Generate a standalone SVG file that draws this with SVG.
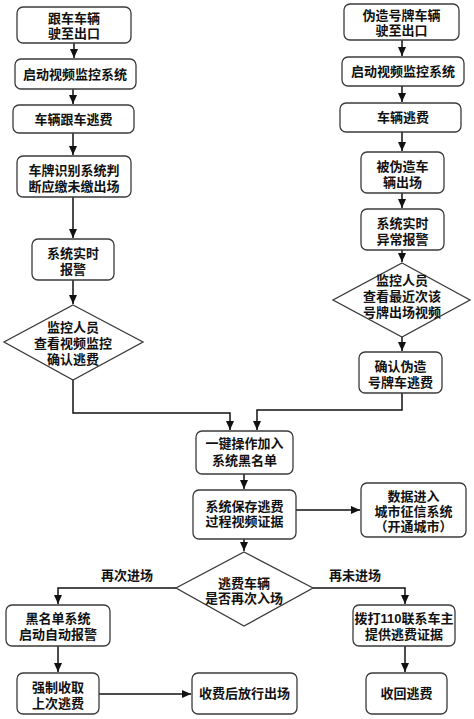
<svg xmlns="http://www.w3.org/2000/svg" width="474" height="719" viewBox="0 0 474 719">
<style>
.b{fill:#fff;stroke:#3a3a3a;stroke-width:1.3}
.t{font-family:"Liberation Sans","Noto Sans CJK SC","Noto Sans CJK JP",sans-serif;font-size:13px;font-weight:bold;fill:#111;text-anchor:middle}
.c{fill:none;stroke:#111;stroke-width:1.5}
</style>
<defs>
<marker id="a" markerUnits="userSpaceOnUse" markerWidth="10" markerHeight="10" refX="9" refY="4" orient="auto">
<path d="M0,0 L9,4 L0,8 Z" fill="#111"/>
</marker>
</defs>
<rect width="474" height="719" fill="#fff"/>
<g id="connectors">
<line class="c" x1="74" y1="43" x2="74" y2="58" marker-end="url(#a)"/>
<line class="c" x1="73" y1="89" x2="73" y2="104" marker-end="url(#a)"/>
<line class="c" x1="73" y1="133" x2="73" y2="155" marker-end="url(#a)"/>
<line class="c" x1="73" y1="197" x2="73" y2="238" marker-end="url(#a)"/>
<line class="c" x1="73" y1="280" x2="73" y2="304" marker-end="url(#a)"/>
<line class="c" x1="402" y1="40" x2="402" y2="56" marker-end="url(#a)"/>
<line class="c" x1="402" y1="86" x2="402" y2="102" marker-end="url(#a)"/>
<line class="c" x1="402" y1="132" x2="402" y2="151" marker-end="url(#a)"/>
<line class="c" x1="402" y1="193" x2="402" y2="208" marker-end="url(#a)"/>
<line class="c" x1="402" y1="250" x2="402" y2="262" marker-end="url(#a)"/>
<line class="c" x1="402" y1="337" x2="402" y2="351" marker-end="url(#a)"/>
<polyline class="c" points="73,380 73,413 230,413 230,430" marker-end="url(#a)"/>
<polyline class="c" points="402,393 402,410 257,410 257,430" marker-end="url(#a)"/>
<line class="c" x1="244" y1="474" x2="244" y2="489" marker-end="url(#a)"/>
<line class="c" x1="296" y1="510" x2="360" y2="510" marker-end="url(#a)"/>
<line class="c" x1="244" y1="539" x2="244" y2="551" marker-end="url(#a)"/>
<polyline class="c" points="176,588 58,588 58,604" marker-end="url(#a)"/>
<polyline class="c" points="313,588 405,588 405,604" marker-end="url(#a)"/>
<line class="c" x1="58" y1="646" x2="58" y2="672" marker-end="url(#a)"/>
<line class="c" x1="405" y1="646" x2="405" y2="672" marker-end="url(#a)"/>
<line class="c" x1="99" y1="694" x2="191" y2="694" marker-end="url(#a)"/>
<text class="t" x="127" y="580">再次进场</text>
<text class="t" x="355" y="580">再未进场</text>
</g>
<g id="L1"><rect class="b" x="17" y="7" width="114" height="36" rx="6"/><text class="t" x="74" y="23">跟车车辆<tspan x="74" dy="15">驶至出口</tspan></text></g>
<g id="L2"><rect class="b" x="15" y="59" width="121" height="30" rx="6"/><text class="t" x="75" y="79">启动视频监控系统</text></g>
<g id="L3"><rect class="b" x="13" y="105" width="121" height="28" rx="6"/><text class="t" x="73.5" y="124">车辆跟车逃费</text></g>
<g id="L4"><rect class="b" x="17" y="156" width="114" height="41" rx="6"/><text class="t" x="74" y="175">车牌识别系统判<tspan x="74" dy="15.5">断应缴未缴出场</tspan></text></g>
<g id="L5"><rect class="b" x="32" y="239" width="82" height="41" rx="6"/><text class="t" x="73" y="258">系统实时<tspan x="73" dy="15.5">报警</tspan></text></g>
<g id="L6"><polygon class="b" points="73,305 143,342 73,380 4,342"/><text class="t" x="73" y="332">监控人员<tspan x="73" dy="16">查看视频监控</tspan><tspan x="73" dy="15.5">确认逃费</tspan></text></g>
<g id="R1"><rect class="b" x="344" y="4" width="115" height="36" rx="6"/><text class="t" x="401.5" y="20">伪造号牌车辆<tspan x="401.5" dy="15">驶至出口</tspan></text></g>
<g id="R2"><rect class="b" x="342" y="57" width="122" height="29" rx="6"/><text class="t" x="403" y="76">启动视频监控系统</text></g>
<g id="R3"><rect class="b" x="340" y="103" width="121" height="29" rx="6"/><text class="t" x="403" y="122">车辆逃费</text></g>
<g id="R4"><rect class="b" x="361" y="152" width="83" height="41" rx="6"/><text class="t" x="402.5" y="171">被伪造车<tspan x="402.5" dy="15.5">辆出场</tspan></text></g>
<g id="R5"><rect class="b" x="361" y="209" width="83" height="41" rx="6"/><text class="t" x="402.5" y="228">系统实时<tspan x="402.5" dy="15.5">异常报警</tspan></text></g>
<g id="R6"><polygon class="b" points="402,263 470,300 402,337 333,300"/><text class="t" x="402" y="285">监控人员<tspan x="402" dy="16">查看最近次该</tspan><tspan x="402" dy="16">号牌出场视频</tspan></text></g>
<g id="R7"><rect class="b" x="359" y="352" width="83" height="41" rx="6"/><text class="t" x="400.5" y="371">确认伪造<tspan x="400.5" dy="15.5">号牌车逃费</tspan></text></g>
<g id="M1"><rect class="b" x="196" y="431" width="97" height="43" rx="6"/><text class="t" x="244.5" y="448">一键操作加入<tspan x="244.5" dy="17">系统黑名单</tspan></text></g>
<g id="M2"><rect class="b" x="193" y="490" width="103" height="49" rx="6"/><text class="t" x="244.5" y="511">系统保存逃费<tspan x="244.5" dy="15">过程视频证据</tspan></text></g>
<g id="M3"><rect class="b" x="361" y="483" width="105" height="54" rx="6"/><text class="t" x="413.5" y="501">数据进入<tspan x="413.5" dy="15">城市征信系统</tspan><tspan x="413.5" dy="15">（开通城市）</tspan></text></g>
<g id="D"><polygon class="b" points="244,552 313,588 244,626 176,588"/><text class="t" x="244" y="588">逃费车辆<tspan x="244" dy="15">是否再次入场</tspan></text></g>
<g id="B1"><rect class="b" x="6" y="605" width="104" height="41" rx="6"/><text class="t" x="58" y="623">黑名单系统<tspan x="58" dy="16">启动自动报警</tspan></text></g>
<g id="B2"><rect class="b" x="17" y="673" width="82" height="41" rx="6"/><text class="t" x="58" y="692">强制收取<tspan x="58" dy="16">上次逃费</tspan></text></g>
<g id="B3"><rect class="b" x="192" y="673" width="105" height="41" rx="6"/><text class="t" x="244.5" y="698">收费后放行出场</text></g>
<g id="B4"><rect class="b" x="353" y="605" width="102" height="41" rx="6"/><text class="t" x="404" y="623">拨打110联系车主<tspan x="404" dy="16">提供逃费证据</tspan></text></g>
<g id="B5"><rect class="b" x="366" y="673" width="81" height="41" rx="6"/><text class="t" x="406.5" y="698">收回逃费</text></g>
</svg>
